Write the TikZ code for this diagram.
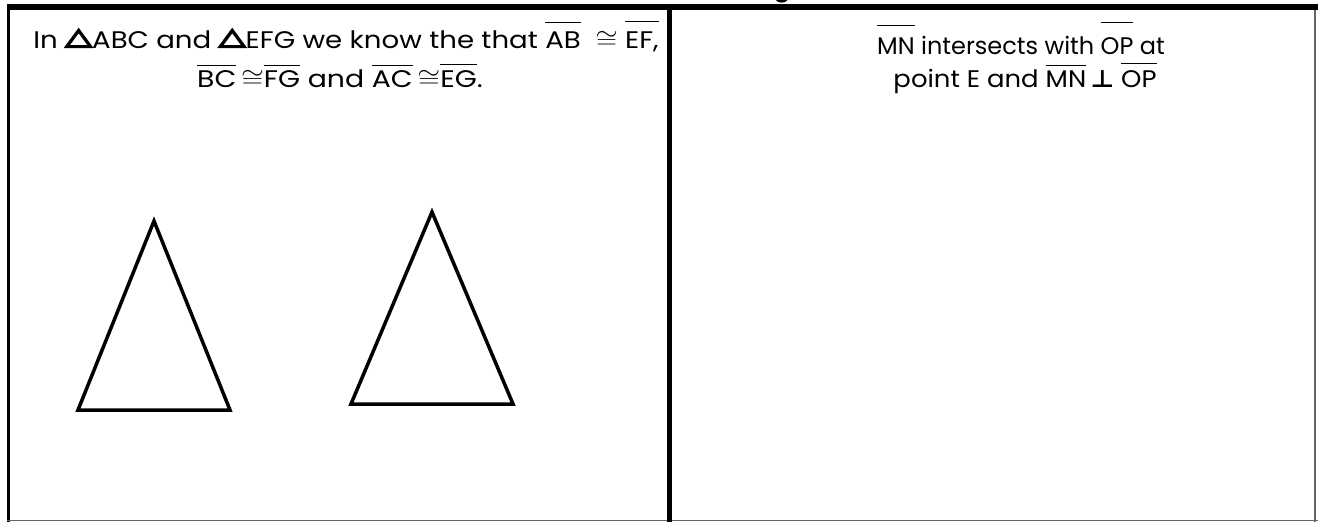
\documentclass[tikz,border=0pt]{standalone}
\usepackage{fontspec}
\usepackage{graphicx}
\setmainfont{Poppins}
\newfontfamily\dv{DejaVu Sans}
\newcommand\seg[2][22pt]{\setbox0\hbox{#2}\rlap{\rule[#1]{\wd0}{1pt}}\box0\relax}
\newcommand\trisym{\tikz[baseline=0pt]\draw[line width=3pt,line join=miter,miter limit=20] (1.5pt,1.5pt)--(22pt,1.5pt)--(11.75pt,17.5pt)--cycle;}
\tikzset{
  txt/.style={inner sep=0pt, anchor=base, font=\fontsize{24}{28}\selectfont},
  tri/.style={draw=black, line width=3.5pt, line join=miter, miter limit=20},
  frame/.style={draw=black, line cap=butt}
}
\begin{document}
\begin{tikzpicture}[x=1pt,y=-1pt]
\useasboundingbox (0,0) rectangle (1320,522);
\fill[white] (0,0) rectangle (1320,522);
% clipped fragment of a title above the frame
\begin{scope}
\clip (0,0) rectangle (1320,6);
\node[txt, font=\fontsize{24}{28}\selectfont\bfseries] (title) at (782,-3) {g};
\end{scope}
% frame
\draw[frame, line width=6pt] (7,7) -- (1318,7);
\draw[frame, line width=3pt] (8.5,4) -- (8.5,522);
\draw[draw=gray!80!black, line width=1.5pt] (1315,10) -- (1315,522);
\draw[draw=gray!80!black, line width=1.5pt] (7,520.5) -- (1318,520.5);
\draw[frame, line width=5pt] (669.5,4) -- (669.5,522);
% left panel text
\node[txt] (l1) at (346,48) {\scalebox{1.15}[1]{In \trisym ABC and \trisym EFG we know the that \seg[25pt]{AB}\ \ $\cong$ \seg[26pt]{EF,}}};
\node[txt] (l2) at (340,87) {\scalebox{1.18}[1]{\seg[21pt]{BC}\,$\cong$\seg[21pt]{FG} and \seg[21pt]{AC}\,$\cong$\seg[22pt]{EG}.}};
% right panel text
\node[txt] (r1) at (1021,54) {\seg[28pt]{MN} intersects with \seg[31pt]{OP} at};
\node[txt] (r2) at (1025,87) {\scalebox{1.08}[1]{point E and \seg[21pt]{MN}\,{\dv\bfseries ⊥}\ \seg[23pt]{OP}}};
% triangles
\draw[tri] (154,221) -- (230,410) -- (78,410) -- cycle;
\draw[tri] (432,212) -- (513,404) -- (351,404) -- cycle;
\end{tikzpicture}
\end{document}
